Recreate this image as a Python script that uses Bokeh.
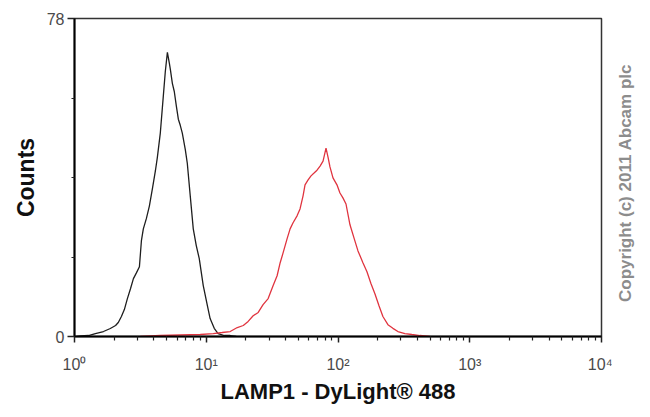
import math
from bokeh.plotting import figure
from bokeh.layouts import row
from bokeh.models import Range1d, FixedTicker, CustomJSTickFormatter
from bokeh.core.properties import value
from bokeh.embed import file_html
from bokeh.resources import INLINE

# ---- data ----
black_x = [1.03, 1.11, 1.28, 1.44, 1.66, 1.87, 2.05, 2.15, 2.27, 2.39, 2.52, 2.66, 2.80, 2.95,
           3.11, 3.22, 3.33, 3.51, 3.70, 3.90, 4.11, 4.25, 4.48, 4.72, 4.89, 5.07, 5.25, 5.34,
           5.53, 5.72, 5.93, 6.14, 6.35, 6.58, 6.93, 7.18, 7.56, 7.97, 8.40, 8.85, 9.49, 10.2,
           10.7, 11.5, 12.3, 13.7, 15.2, 16.9]
black_y = [0.0, 0.12, 0.24, 0.73, 1.22, 1.96, 2.69, 3.42, 4.89, 6.6, 9.3, 11.7, 14.2, 15.6,
           17.1, 23.5, 26.4, 28.9, 32.0, 36.2, 40.6, 43.8, 49.9, 58.9, 65.0, 69.7, 67.0, 65.5,
           62.1, 60.1, 56.5, 53.3, 51.8, 49.9, 45.9, 42.5, 34.5, 26.4, 22.3, 19.1, 12.5, 7.6,
           4.4, 2.0, 0.73, 0.24, 0.24, 0.0]

red_x = [3.16, 4.48, 6.35, 9.0, 11.3, 13.2, 15.2, 17.2, 19.1, 20.8, 22.7, 24.8, 27.0, 29.5,
         32.2, 34.5, 36.4, 38.3, 41.1, 43.3, 45.6, 48.9, 51.5, 54.3, 56.2, 59.3, 62.4, 65.8,
         69.3, 73.1, 77.0, 81.1, 84.0, 86.9, 91.6, 98.2, 103.5, 109.0, 115.0, 123.3, 132.2,
         141.8, 154.6, 165.9, 177.8, 190.6, 204.4, 219.2, 239.3, 261.1, 284.9, 321.9, 363.6,
         418.0, 497.6]
red_y = [0.0, 0.24, 0.37, 0.49, 0.73, 0.98, 1.22, 2.2, 2.7, 3.7, 5.1, 5.9, 7.8, 9.3,
         12.5, 14.9, 18.1, 20.5, 24.0, 26.4, 27.9, 29.6, 31.3, 34.5, 37.2, 38.4, 39.4, 40.1,
         40.8, 41.8, 43.0, 46.2, 44.0, 41.6, 38.9, 37.2, 35.2, 34.0, 32.5, 27.4, 24.2,
         21.0, 18.1, 15.9, 13.0, 10.5, 7.6, 4.9, 2.9, 2.0, 1.22, 0.73, 0.49,
         0.24, 0.0]

x_major = [1, 10, 100, 1000, 10000]
y_major = [0, 78]
y_minor = [19.5, 39, 58.5]
x_label = "LAMP1 - DyLight® 488"
y_label = "Counts"
copyright_text = "Copyright (c) 2011 Abcam plc"

FONT = "Liberation Sans"
H = 408

p = figure(width=612, height=H, x_axis_type="log",
           x_range=Range1d(1, 10000), y_range=Range1d(0, 78),
           output_backend="svg", toolbar_location=None,
           min_border_left=74, min_border_top=18, min_border_right=11, min_border_bottom=72)

p.background_fill_color = "white"
p.border_fill_color = "white"
p.outline_line_color = "#333333"
p.outline_line_width = 1.5
p.grid.visible = False

p.line(black_x, black_y, line_color="#1e1e1e", line_width=1.3)
p.line(red_x, red_y, line_color="#e0343f", line_width=1.3)

x_minor = [m * d for d in x_major[:-1] for m in range(2, 10)]
p.xaxis.ticker = FixedTicker(ticks=x_major, minor_ticks=x_minor)
p.xaxis.formatter = CustomJSTickFormatter(code="""
const s = ['\u2070','\u00b9','\u00b2','\u00b3','\u2074'];
return '10' + s[Math.round(Math.log10(tick))];
""")
p.yaxis.ticker = FixedTicker(ticks=y_major, minor_ticks=y_minor)

for ax in (p.xaxis[0], p.yaxis[0]):
    ax.axis_line_color = "black"
    ax.axis_line_width = 2
    ax.major_tick_line_color = "#222222"
    ax.major_tick_line_width = 1.5
    ax.minor_tick_line_color = "#222222"
    ax.minor_tick_line_width = 1.2
    ax.major_tick_in = 0
    ax.minor_tick_in = 0
    ax.major_label_text_font = FONT
    ax.major_label_text_font_size = "16px"
    ax.major_label_text_color = "#4a4a4a"
    ax.axis_label_text_font = FONT
    ax.axis_label_text_font_style = "bold"
    ax.axis_label_text_color = "#111111"

p.xaxis.major_tick_out = 6
p.xaxis.minor_tick_out = 4
p.xaxis.major_label_standoff = 13
p.xaxis.axis_label = x_label
p.xaxis.axis_label_text_font_size = "22px"
p.xaxis.axis_label_standoff = 3

p.yaxis.major_tick_out = 7
p.yaxis.minor_tick_out = 3
p.yaxis.major_label_standoff = 3
p.yaxis.axis_label = y_label
p.yaxis.axis_label_text_font_size = "23px"
p.yaxis.axis_label_standoff = 5

# narrow side panel carrying the rotated copyright notice
side = figure(width=38, height=H, x_range=Range1d(0, 38), y_range=Range1d(0, H),
              output_backend="svg", toolbar_location=None,
              x_axis_location=None, y_axis_location=None, min_border=0)
side.outline_line_color = None
side.grid.visible = False
side.border_fill_color = "white"
side.background_fill_color = "white"
side.text(x=[13], y=[197], text=[copyright_text], angle=math.pi / 2,
          text_align="center", text_baseline="middle",
          text_font=value(FONT), text_font_size="17px", text_font_style="bold",
          text_color="#8c8c8c")

layout = row(p, side, spacing=0)
open("out.html", "w").write(file_html(layout, INLINE))
